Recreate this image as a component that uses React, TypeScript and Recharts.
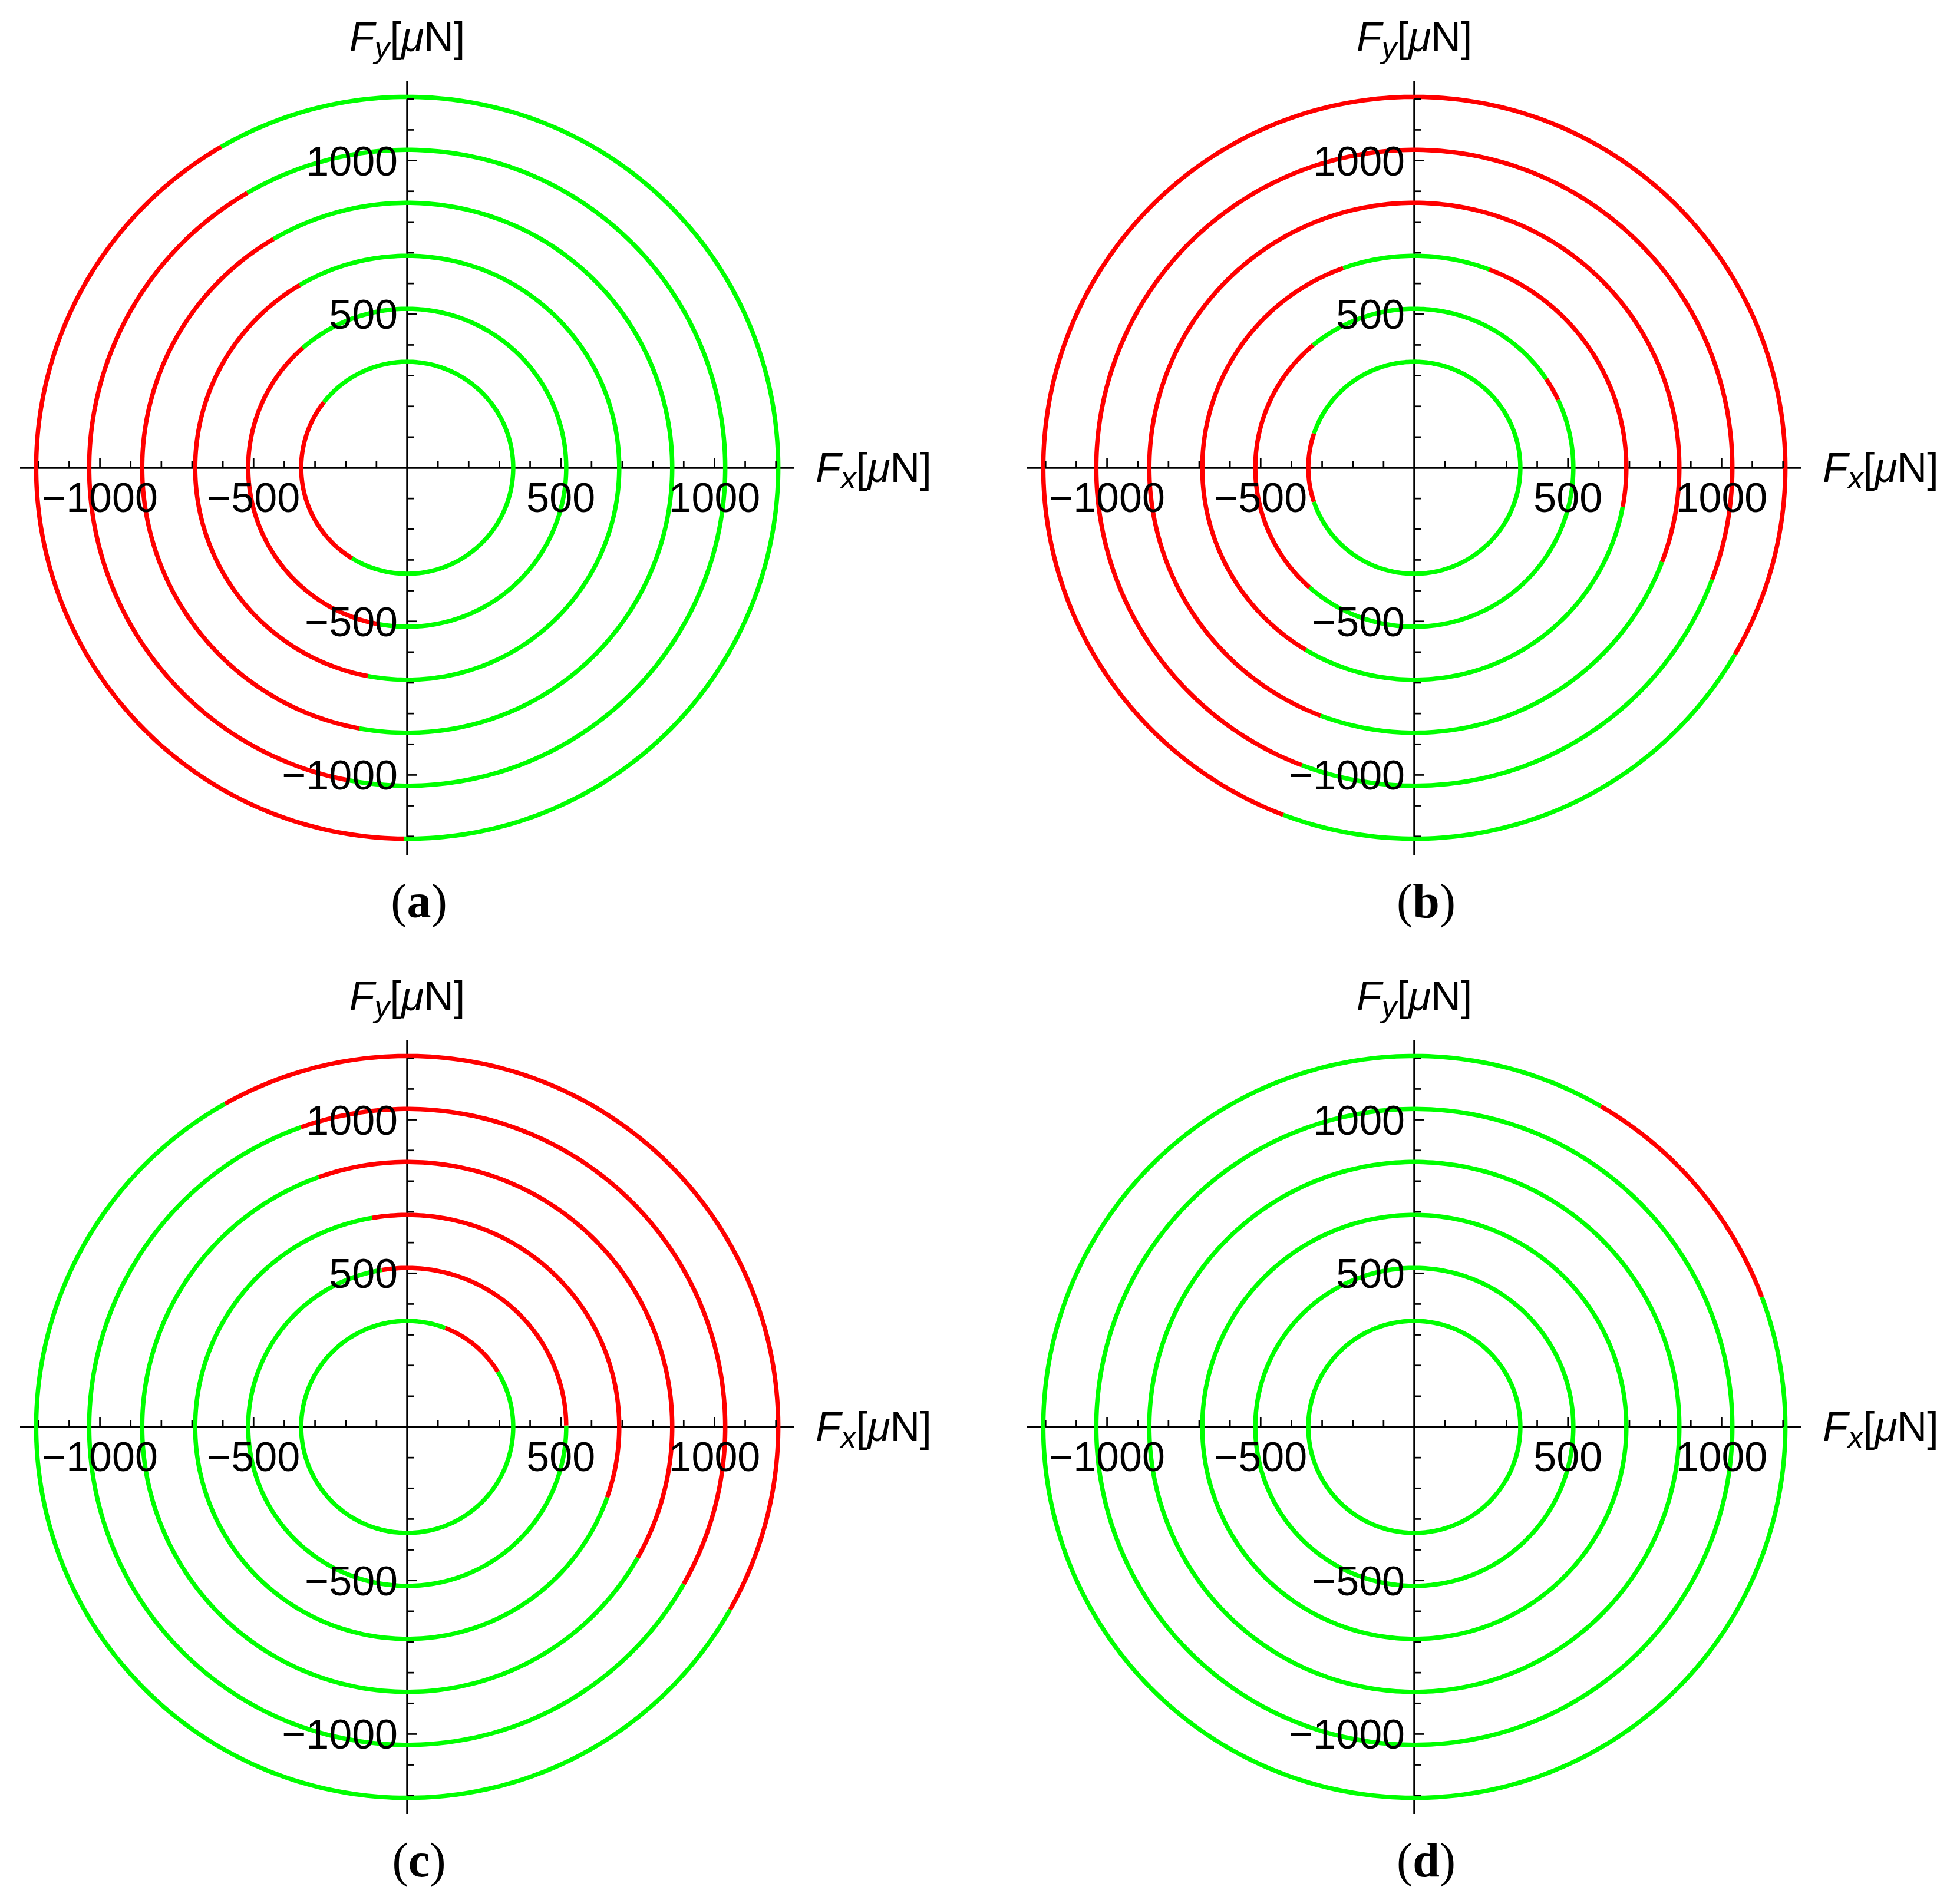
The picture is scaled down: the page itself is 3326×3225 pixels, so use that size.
import React from 'react';
import { ComposedChart, Scatter, XAxis, YAxis, ReferenceLine } from 'recharts';

// ---------- data ----------
const RING_RADII = [345, 517.5, 690, 862.5, 1035, 1207.5];
const AXIS_LIMIT = 1260;
const MAJOR_TICKS = [-1000, -500, 500, 1000];
const MAJOR_TICK_LABELS = ['\u22121000', '\u2212500', '500', '1000'];
const MINOR_TICKS = [-1200, -1100, -900, -800, -700, -600, -400, -300, -200, -100, 100, 200, 300, 400, 600, 700, 800, 900, 1100, 1200];
const PANEL_NAMES = ['a', 'b', 'c', 'd'];

// red arcs (degrees, counter-clockwise from +Fx), per ring (inner -> outer)
const PANEL_A_RED = [
  [[141.8, 238.6]],
  [[131.1, 259.3]],
  [[120.5, 259.3]],
  [[120.3, 259.6]],
  [[120.2, 259.6]],
  [[120.1, 269.5]],
];
const PANEL_B_RED = [
  [[161.2, 198.7]],
  [[25.3, 33.9], [129.5, 228.8]],
  [[-10.6, 69.3], [109.6, 239.2]],
  [[-20.8, 249.3]],
  [[-20.6, 249.3]],
  [[-30.2, 249.3]],
];
const PANEL_C_RED = [
  [[31.4, 69.0]],
  [[0.5, 99.2]],
  [[-19.4, 99.5]],
  [[-29.6, 109.5]],
  [[-29.6, 109.5]],
  [[-29.5, 119.4]],
];
const PANEL_D_RED = [[], [], [], [], [], [[20.5, 59.8]]];
const PANEL_RED = [PANEL_A_RED, PANEL_B_RED, PANEL_C_RED, PANEL_D_RED];

// ---------- layout / style ----------
const PANEL_CENTERS = [
  { cx: 691.3, cy: 793.5 },
  { cx: 2399.5, cy: 793.5 },
  { cx: 691.3, cy: 2422 },
  { cx: 2399.5, cy: 2422 },
];
const PLOT = 1314;
const M_LEFT = 140;
const M_RIGHT = 262;
const M_TOP = 140;
const M_BOTTOM = 140;
const CHART_W = PLOT + M_LEFT + M_RIGHT;
const CHART_H = PLOT + M_TOP + M_BOTTOM;
const RED = '#FF0000';
const GREEN = '#00FF00';
const RING_WIDTH = 7.5;
const SANS = '"Liberation Sans", Arial, Helvetica, sans-serif';
const SERIF = '"Liberation Serif", "Times New Roman", serif';

type Seg = [number, number];

function complement(red: number[][]): Seg[] {
  if (red.length === 0) return [[0, 360]];
  const s = [...red].sort((p, q) => p[0] - q[0]);
  const out: Seg[] = [];
  for (let i = 0; i < s.length; i++) {
    const end = s[i][1];
    const next = i + 1 < s.length ? s[i + 1][0] : s[0][0] + 360;
    if (next > end) out.push([end, next]);
  }
  return out;
}

function arcPoints(r: number, a0: number, a1: number) {
  const n = Math.max(2, Math.ceil(a1 - a0) + 1);
  const pts: { x: number; y: number }[] = [];
  for (let i = 0; i < n; i++) {
    const a = ((a0 + ((a1 - a0) * i) / (n - 1)) * Math.PI) / 180;
    pts.push({ x: r * Math.cos(a), y: r * Math.sin(a) });
  }
  return pts;
}

const NoShape = () => <g />;

const xTickData = MINOR_TICKS.map((v) => ({ x: v, y: 0, len: 11 })).concat(MAJOR_TICKS.map((v) => ({ x: v, y: 0, len: 17 })));
const yTickData = MINOR_TICKS.map((v) => ({ x: 0, y: v, len: 11 })).concat(MAJOR_TICKS.map((v) => ({ x: 0, y: v, len: 17 })));
const xLabelData = MAJOR_TICKS.map((v, i) => ({ x: v, y: 0, label: MAJOR_TICK_LABELS[i] }));
const yLabelData = MAJOR_TICKS.map((v, i) => ({ x: 0, y: v, label: MAJOR_TICK_LABELS[i] }));

const XTick = (p: any) => (
  <line x1={p.cx} x2={p.cx} y1={p.cy} y2={p.cy - p.payload.len} stroke="#000" strokeWidth={2.7} />
);
const YTick = (p: any) => (
  <line x1={p.cx} x2={p.cx + p.payload.len} y1={p.cy} y2={p.cy} stroke="#000" strokeWidth={2.7} />
);
const XLabel = (p: any) => (
  <text x={p.cx} y={p.cy + 75} textAnchor="middle" fontFamily={SANS} fontSize={70} fill="#000">
    {p.payload.label}
  </text>
);
const YLabel = (p: any) => (
  <text x={p.cx - 16} y={p.cy + 25} textAnchor="end" fontFamily={SANS} fontSize={70} fill="#000">
    {p.payload.label}
  </text>
);
const FyLabel = (p: any) => (
  <text x={p.cx} y={p.cy - 50} textAnchor="middle" fontFamily={SANS} fontSize={70} fill="#000">
    <tspan fontStyle="italic">F</tspan>
    <tspan fontStyle="italic" fontSize={52} dy={11}>y</tspan>
    <tspan dy={-11}>[</tspan>
    <tspan fontStyle="italic">{'\u03bc'}</tspan>
    <tspan>N]</tspan>
  </text>
);
const FxLabel = (p: any) => (
  <text x={p.cx + 36} y={p.cy + 24} textAnchor="start" fontFamily={SANS} fontSize={70} fill="#000">
    <tspan fontStyle="italic">F</tspan>
    <tspan fontStyle="italic" fontSize={52} dy={11}>x</tspan>
    <tspan dy={-11}>[</tspan>
    <tspan fontStyle="italic">{'\u03bc'}</tspan>
    <tspan>N]</tspan>
  </text>
);
const makePanelLabel = (name: string) => (p: any) => (
  <text x={p.cx + 20} y={p.cy + 106} textAnchor="middle" fontFamily={SERIF} fontSize={82} fill="#000">
    <tspan>(</tspan>
    <tspan fontWeight="bold">{name}</tspan>
    <tspan>)</tspan>
  </text>
);

function Panel({ index }: { index: number }) {
  const red = PANEL_RED[index];
  const { cx, cy } = PANEL_CENTERS[index];
  const segs: { color: string; data: { x: number; y: number }[] }[] = [];
  RING_RADII.forEach((r, i) => {
    complement(red[i]).forEach(([a0, a1]) => segs.push({ color: GREEN, data: arcPoints(r, a0, a1) }));
    red[i].forEach(([a0, a1]) => segs.push({ color: RED, data: arcPoints(r, a0, a1) }));
  });
  return (
    <div style={{ position: 'absolute', left: cx - PLOT / 2 - M_LEFT, top: cy - PLOT / 2 - M_TOP, width: CHART_W, height: CHART_H }}>
      <ComposedChart width={CHART_W} height={CHART_H} margin={{ top: M_TOP, right: M_RIGHT, bottom: M_BOTTOM, left: M_LEFT }}>
        <XAxis type="number" dataKey="x" domain={[-AXIS_LIMIT, AXIS_LIMIT]} hide />
        <YAxis type="number" dataKey="y" domain={[-AXIS_LIMIT, AXIS_LIMIT]} hide />
        {segs.map((s, k) => (
          <Scatter
            key={'seg' + k}
            data={s.data}
            fill={s.color}
            line={{ stroke: s.color, strokeWidth: RING_WIDTH }}
            lineType="joint"
            shape={NoShape}
            isAnimationActive={false}
          />
        ))}
        <ReferenceLine x={0} stroke="#000" strokeWidth={3.5} />
        <ReferenceLine y={0} stroke="#000" strokeWidth={3.5} />
        <Scatter data={xTickData} shape={XTick} isAnimationActive={false} />
        <Scatter data={yTickData} shape={YTick} isAnimationActive={false} />
        <Scatter data={xLabelData} shape={XLabel} isAnimationActive={false} />
        <Scatter data={yLabelData} shape={YLabel} isAnimationActive={false} />
        <Scatter data={[{ x: 0, y: AXIS_LIMIT }]} shape={FyLabel} isAnimationActive={false} />
        <Scatter data={[{ x: AXIS_LIMIT, y: 0 }]} shape={FxLabel} isAnimationActive={false} />
        <Scatter data={[{ x: 0, y: -AXIS_LIMIT }]} shape={makePanelLabel(PANEL_NAMES[index])} isAnimationActive={false} />
      </ComposedChart>
    </div>
  );
}

export default function App() {
  return (
    <div style={{ position: 'absolute', left: 0, top: 0, width: 3326, height: 3225, overflow: 'hidden', background: '#fff' }}>
      {PANEL_NAMES.map((n, i) => (
        <Panel key={n} index={i} />
      ))}
    </div>
  );
}
